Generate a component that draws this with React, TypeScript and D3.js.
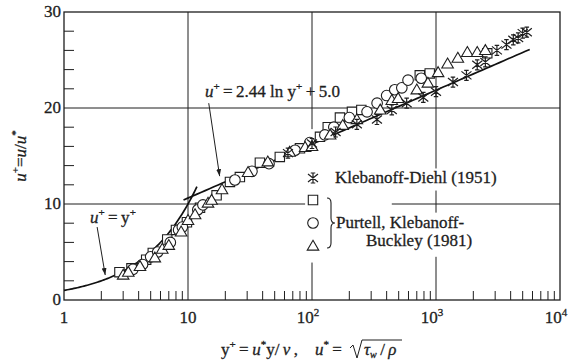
import React from 'react';
import * as d3 from 'd3';

// [y+, u+]
const klebanoffDiehl: [number, number][] = [
  [64, 15.3], [100, 16.3], [155, 17.5], [230, 18.3], [334, 18.8], [440, 19.8],
  [580, 20.5], [790, 21.1], [1000, 21.7], [1370, 22.7], [1760, 23.4], [2150, 24.5],
  [2500, 24.8], [3100, 26.0], [3700, 26.6], [4200, 27.1], [4600, 27.3], [5000, 27.8], [5400, 27.9],
];

const squares: [number, number][] = [
  [2.8, 2.9], [3.5, 3.3], [4.6, 4.2], [5.2, 4.9], [6.8, 6.3], [8.0, 7.3], [9.8, 8.1],
  [12.5, 9.6], [17, 10.9], [21.8, 12.3], [26.2, 12.8], [38, 14.3], [55, 14.9], [80, 15.8],
  [116, 17], [134, 18], [168, 19], [210, 19.6], [250, 19.8], [740, 23.4], [890, 23.6], [2590, 25.7],
];

const circles: [number, number][] = [
  [3.6, 3.2], [4.3, 3.7], [5.0, 4.5], [5.7, 5.0], [7.2, 6.0], [8.4, 7.3], [9.0, 7.6],
  [12, 9.4], [13.2, 9.9], [23.9, 12.5], [32.8, 13.4], [45, 14.2], [73, 15.6], [96, 16.4],
  [127, 17.2], [150, 18.0], [200, 19.0], [278, 19.6], [335, 20.5], [400, 21.3], [465, 21.9],
  [530, 22.1], [595, 22.9], [760, 23.1],
];

const triangles: [number, number][] = [
  [3.0, 2.6], [3.3, 2.9], [4.1, 3.5], [5.4, 4.4], [6.2, 5.3], [7.0, 5.7], [8.8, 7.1],
  [10, 8.3], [11.4, 8.9], [14.5, 10.1], [15.5, 10.4], [18.8, 11.5], [30.5, 13.3], [44, 14.4],
  [66, 15.4], [88, 15.9], [100, 16.0], [140, 17.2], [177, 18.2], [230, 18.8], [355, 19.8],
  [440, 20.8], [495, 21.0], [700, 21.9], [860, 22.6], [1040, 23.7], [1240, 24.6], [1500, 25.2],
  [1790, 25.8], [2150, 25.8], [2500, 26.0],
];

const yTicks = [0, 10, 20, 30];
const yMinor = [2, 4, 6, 8, 12, 14, 16, 18, 22, 24, 26, 28];
const xDecades = [1, 10, 100, 1000, 10000];
const xLabels = ['1', '10', '10|2', '10|3', '10|4'];

const INK = '#1e1e1e';
// serif text, slightly heavier like the printed figure
const TS = { fontFamily: "'Liberation Serif'", stroke: INK, strokeWidth: 0.3 };

const W = 570, H = 362;
const x = d3.scaleLog().domain([1, 1e4]).range([64, 560]);
const y = d3.scaleLinear().domain([0, 30]).range([300, 12]);

const linear = (v: number) => v;
const logLaw = (v: number) => 2.44 * Math.log(v) + 5.0;

function curve(f: (v: number) => number, a: number, b: number) {
  const n = 80;
  const pts: [number, number][] = d3.range(n + 1).map((i) => {
    const v = Math.exp(Math.log(a) + (Math.log(b) - Math.log(a)) * (i / n));
    return [x(v), y(f(v))];
  });
  return d3.line()(pts) || '';
}

const starPath = (s: number) =>
  `M${-s},${-s * 0.8}L${s},${s * 0.8}M${-s},${s * 0.8}L${s},${-s * 0.8}M0,${-s}L0,${s}M${-s * 0.45},${-s}L${s * 0.45},${-s}M${-s * 0.45},${s}L${s * 0.45},${s}`;
const squarePath = (s: number) => `M${-s},${-s}H${s}V${s}H${-s}Z`;
const triPath = (s: number) => `M0,${-s * 1.05}L${s * 1.05},${s * 0.75}L${-s * 1.05},${s * 0.75}Z`;

function Marker({ kind, cx, cy }: { kind: string; cx: number; cy: number }) {
  const common = { fill: 'white', stroke: INK, strokeWidth: 1.1 };
  const t = `translate(${cx},${cy})`;
  if (kind === 'circle') return <circle cx={cx} cy={cy} r={5.3} {...common} />;
  if (kind === 'square') return <path transform={t} d={squarePath(4.7)} {...common} />;
  if (kind === 'tri') return <path transform={t} d={triPath(5.5)} {...common} />;
  return <path transform={t} d={starPath(5)} fill="none" stroke={INK} strokeWidth={1.2} />;
}

function Label({ text, ...rest }: any) {
  const [base, sup] = text.split('|');
  return (
    <text {...rest} style={TS}>
      {base}
      {sup && <tspan dy={-7} fontSize={11}>{sup}</tspan>}
    </text>
  );
}

export default function App() {
  const minorX: number[] = [];
  xDecades.slice(0, -1).forEach((d) => {
    for (let k = 2; k <= 9; k++) minorX.push(d * k);
  });

  // grid segments [value, from, to] in data units, interrupted by the legend
  const vGrid: [number, number, number][] = [
    [10, 0, 30], [100, 17.8, 30], [100, 0, 3.9], [1000, 13.7, 30],
    [1000, 9.1, 11.4], [1000, 0, 4.5],
  ];
  const hGrid: [number, number, number][] = [
    [20, 1, 1e4], [10, 1, 88], [10, 440, 1e4],
  ];

  const arrows = [
    { from: [14.7, 20.5], to: [18.0, 12.9] },
    { from: [1.85, 7.6], to: [2.15, 2.6] },
  ];

  const sup = (s: string) => <tspan dy={-7} fontSize={11}>{s}</tspan>;
  const rootX = 350;

  return (
    <svg width={W} height={H} style={{ position: 'absolute', left: 0, top: 0, background: 'white' }}>
      <defs>
        <marker id="ah" viewBox="0 0 10 10" refX="10" refY="5" markerWidth="7" markerHeight="7" orient="auto">
          <path d="M0,1.5L10,5L0,8.5Z" fill={INK} />
        </marker>
      </defs>

      {/* grid */}
      {vGrid.map(([v, a, b], i) => (
        <line key={'v' + i} x1={x(v)} x2={x(v)} y1={y(a)} y2={y(b)} stroke={INK} strokeWidth={1} />
      ))}
      {hGrid.map(([v, a, b], i) => (
        <line key={'h' + i} x1={x(a)} x2={x(b)} y1={y(v)} y2={y(v)} stroke={INK} strokeWidth={1} />
      ))}

      {/* frame */}
      <rect x={x(1)} y={y(30)} width={x(1e4) - x(1)} height={y(0) - y(30)} fill="none" stroke={INK} strokeWidth={1.3} />

      {/* minor ticks */}
      {minorX.map((v) => (
        <line key={'mx' + v} x1={x(v)} x2={x(v)} y1={y(0)} y2={y(0) - 9} stroke={INK} strokeWidth={1} />
      ))}
      {yMinor.map((v) => (
        <line key={'my' + v} x1={x(1)} x2={x(1) + 10} y1={y(v)} y2={y(v)} stroke={INK} strokeWidth={1} />
      ))}

      {/* tick labels */}
      {yTicks.map((v) => (
        <text key={'yt' + v} x={x(1) - 3} y={y(v) + 5} textAnchor="end" fontSize={17} fill={INK} style={TS}>{v}</text>
      ))}
      {xDecades.map((v, i) => (
        <Label key={'xt' + v} text={xLabels[i]} x={x(v) - (i > 1 ? 4 : 0)} y={y(0) + 23} textAnchor="middle" fontSize={17} fill={INK} />
      ))}

      {/* theory curves */}
      <path d={curve(linear, 1, 11.8)} fill="none" stroke="#111" strokeWidth={1.7} />
      <path d={curve(logLaw, 9.2, 5700)} fill="none" stroke="#111" strokeWidth={1.7} />

      {/* data */}
      {squares.map(([a, b], i) => <Marker key={'s' + i} kind="square" cx={x(a)} cy={y(b)} />)}
      {circles.map(([a, b], i) => <Marker key={'c' + i} kind="circle" cx={x(a)} cy={y(b)} />)}
      {triangles.map(([a, b], i) => <Marker key={'t' + i} kind="tri" cx={x(a)} cy={y(b)} />)}
      {klebanoffDiehl.map(([a, b], i) => <Marker key={'k' + i} kind="star" cx={x(a)} cy={y(b)} />)}

      {/* annotations */}
      {arrows.map((ar, i) => (
        <line key={'ar' + i} x1={x(ar.from[0])} y1={y(ar.from[1])} x2={x(ar.to[0])} y2={y(ar.to[1])}
          stroke={INK} strokeWidth={1} markerEnd="url(#ah)" />
      ))}
      <text x={205} y={97} fontSize={17} fill={INK} style={TS}>
        <tspan fontStyle="italic">u</tspan>{sup('+')}
        <tspan dy={7}>{'\u2009=\u20092.44 ln y'}</tspan>{sup('+')}
        <tspan dy={7}>{'\u2009+\u20095.0'}</tspan>
      </text>
      <text x={90} y={223} fontSize={17} fill={INK} style={TS}>
        <tspan fontStyle="italic">u</tspan>{sup('+')}
        <tspan dy={7}>{'\u2009=\u2009y'}</tspan>{sup('+')}
      </text>

      {/* legend */}
      <Marker kind="star" cx={313} cy={178} />
      <Marker kind="square" cx={313} cy={200} />
      <Marker kind="circle" cx={313} cy={223} />
      <Marker kind="tri" cx={313} cy={246} />
      <path d="M327,198Q331,198 331,203L331,218Q331,223 335,223Q331,223 331,228L331,243Q331,248 327,248"
        fill="none" stroke={INK} strokeWidth={1.1} />
      <text x={335} y={183} fontSize={17} fill={INK} style={TS}>Klebanoff-Diehl (1951)</text>
      <text x={336} y={228} fontSize={17} fill={INK} style={TS}>Purtell, Klebanoff-</text>
      <text x={366} y={246} fontSize={17} fill={INK} style={TS}>Buckley (1981)</text>

      {/* axis titles */}
      <text transform={`translate(26,156) rotate(-90)`} textAnchor="middle" fontSize={17} fill={INK} style={TS}>
        <tspan fontStyle="italic">u</tspan>{sup('+')}
        <tspan dy={7}>=</tspan><tspan fontStyle="italic">u</tspan><tspan>/</tspan>
        <tspan fontStyle="italic">u</tspan>{sup('*')}
      </text>
      <text x={221} y={355} fontSize={17} fill={INK} style={TS}>
        <tspan>y</tspan>{sup('+')}
        <tspan dy={7}>{'\u2009=\u2009'}</tspan><tspan fontStyle="italic">u</tspan>{sup('*')}
        <tspan dy={7}>{'y/\u2009'}</tspan><tspan fontStyle="italic">ν</tspan><tspan>{'\u2009,\u2002\u2002'}</tspan>
        <tspan fontStyle="italic">u</tspan>{sup('*')}
        <tspan dy={7}>{'\u2009=\u2009'}</tspan>
      </text>
      <path d={`M${rootX},348L${rootX + 3},345L${rootX + 7},358L${rootX + 12},340H${rootX + 52}`}
        fill="none" stroke={INK} strokeWidth={1} />
      <text x={rootX + 14} y={355} fontSize={17} fill={INK} style={TS}>
        <tspan fontStyle="italic">τ</tspan><tspan dy={3} fontSize={10} fontStyle="italic">w</tspan>
        <tspan dy={-3}>{'\u2009/\u2009'}</tspan><tspan fontStyle="italic">ρ</tspan>
      </text>
    </svg>
  );
}
